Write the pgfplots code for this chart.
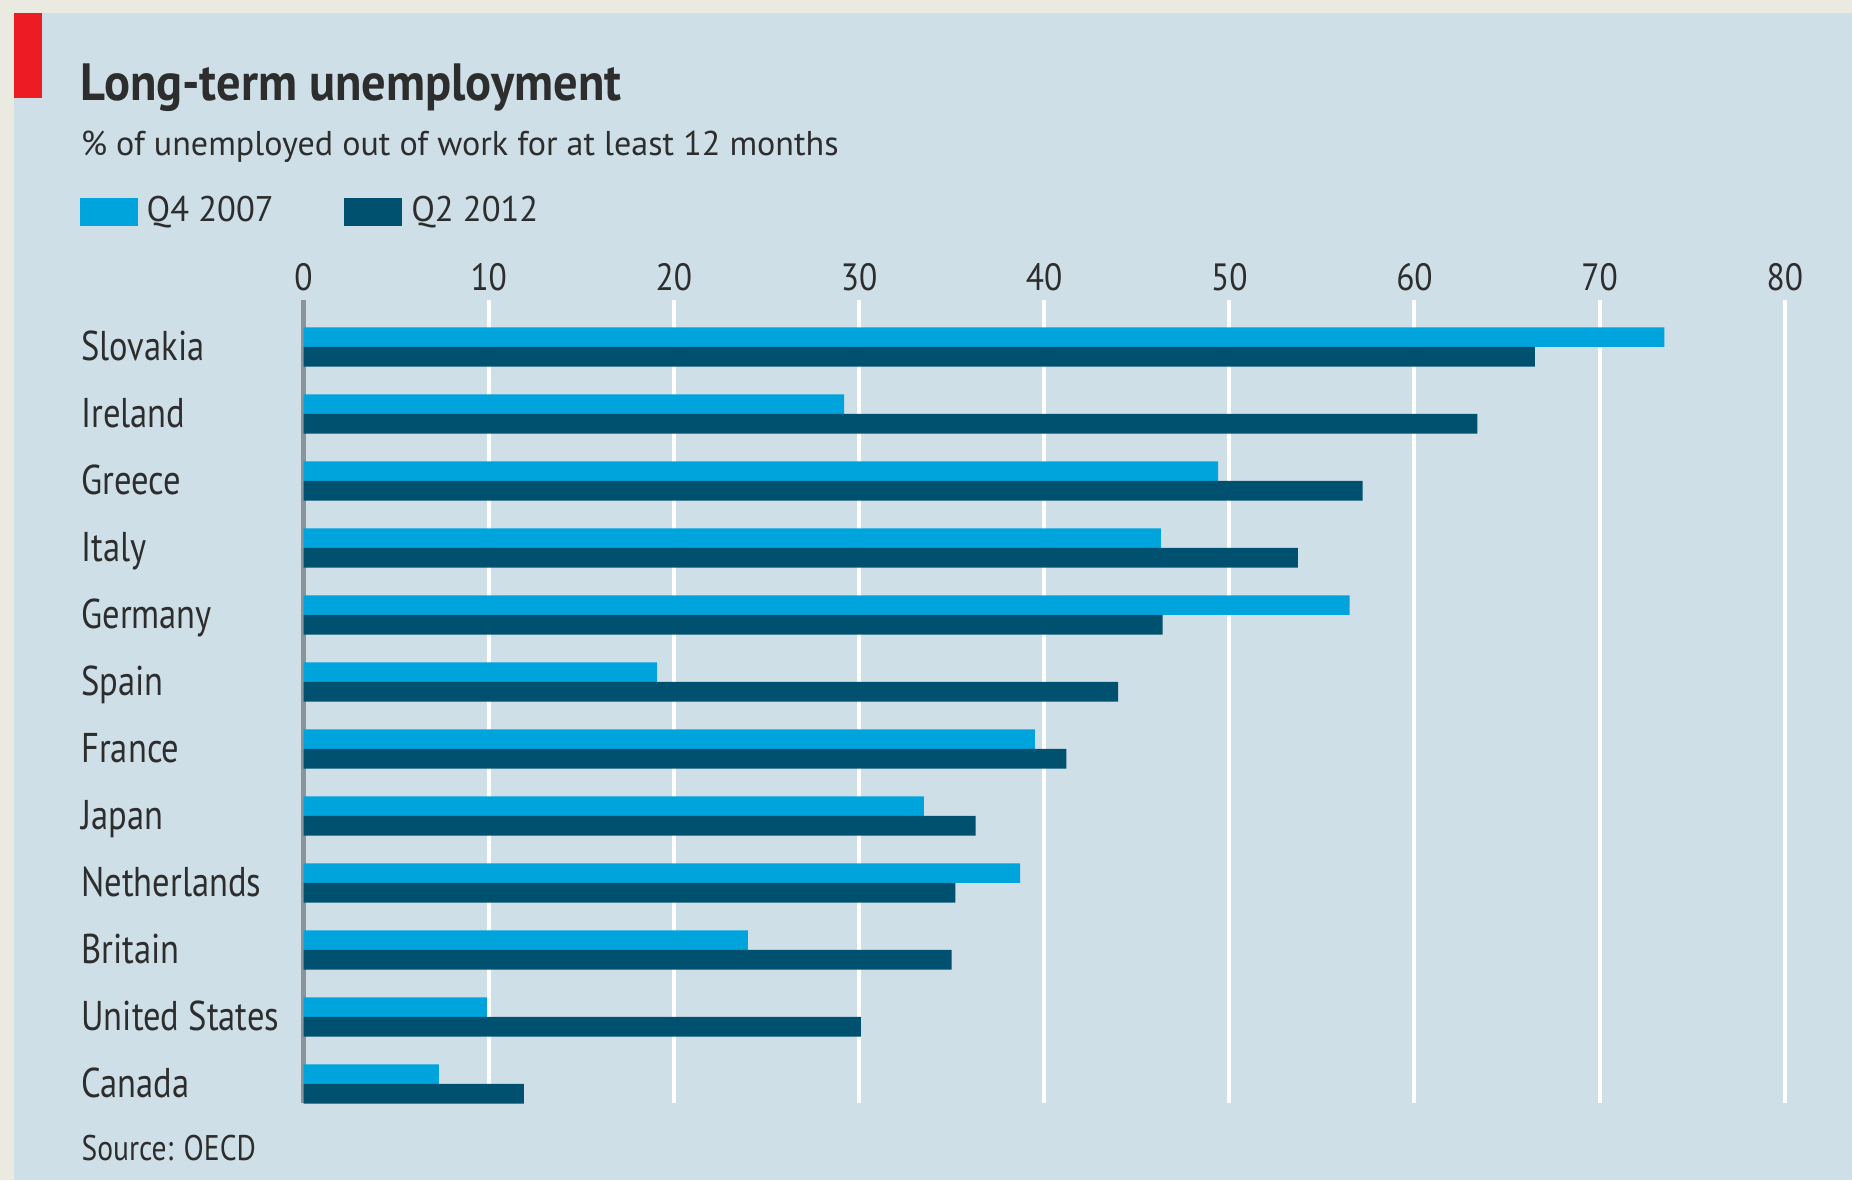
\documentclass[border=0pt]{standalone}
\usepackage{pgfplots}
\pgfplotsset{compat=1.18}
\usepackage{fontspec}
\setmainfont{PT Sans}[FakeStretch=0.83]
\newfontfamily\titlefont{PT Sans}[FakeStretch=0.925]
\newfontfamily\subfont{PT Sans}[FakeStretch=0.99]
\newfontfamily\legfont{PT Sans}[FakeStretch=0.97]
\newfontfamily\tickfont{PT Sans}[FakeStretch=0.88]

\definecolor{bgblue}{RGB}{206,223,231}
\definecolor{beige}{RGB}{234,234,224}
\definecolor{ecored}{RGB}{237,28,36}
\definecolor{lightbar}{RGB}{0,164,220}
\definecolor{darkbar}{RGB}{0,81,111}
\definecolor{zerogrey}{RGB}{138,148,153}
\definecolor{textgrey}{RGB}{45,45,45}

\begin{document}
\begin{tikzpicture}
% page background (1 px of the reference = 0.25pt)
\fill[beige] (0pt,0pt) rectangle (463pt,-295pt);
\fill[bgblue] (3.45pt,-3.2pt) rectangle (463pt,-295pt);
\fill[ecored] (3.45pt,-3.2pt) rectangle (10.5pt,-24.6pt);

\node[anchor=base west, inner sep=0pt, text=textgrey, font=\titlefont\fontsize{13.1}{15}\selectfont\bfseries]
  at (20pt,-25pt) {Long-term unemployment};
\node[anchor=base west, inner sep=0pt, text=textgrey, font=\subfont\fontsize{8.6}{10}\selectfont]
  at (20pt,-38.75pt) {\% of unemployed out of work for at least 12 months};
\node[anchor=base west, inner sep=0pt, text=textgrey, font=\fontsize{8.9}{10}\selectfont]
  at (20.2pt,-290pt) {Source: OECD};

\begin{axis}[
    at={(75.9pt,-275.75pt)}, anchor=south west,
    width=370.3pt, height=200.75pt, scale only axis,
    xbar, bar width=4.9pt,
    xmin=0, xmax=80,
    ymin=-0.285, ymax=11.70,
    axis line style={draw=none},
    tick style={draw=none},
    major tick length=0pt,
    xtick={10,20,...,80},
    extra x ticks={0},
    extra x tick style={grid style={draw=zerogrey, line width=1.25pt}},
    xmajorgrids,
    grid style={draw=white, line width=1pt},
    xticklabel pos=upper,
    /pgf/number format/assume math mode=true,
    xticklabel style={anchor=base, yshift=2.5pt, inner sep=0pt, text=textgrey,
        font=\tickfont\fontsize{9.5}{10}\selectfont},
    ytick={0,...,11},
    yticklabels={Canada,United States,Britain,Netherlands,Japan,France,Spain,Germany,Italy,Greece,Ireland,Slovakia},
    yticklabel style={anchor=base west, xshift=-55.75pt, yshift=-3.45pt, inner sep=0pt,
        text=textgrey, font=\fontsize{10.4}{12}\selectfont},
    legend columns=2,
    legend style={at={(axis description cs:-0.151,1.1096)}, anchor=west,
        draw=none, fill=none, inner sep=0pt, outer sep=0pt,
        font=\legfont\fontsize{8.9}{10}\selectfont, text=textgrey,
        nodes={inner xsep=2.2pt, inner ysep=0pt},
        /tikz/every even column/.append style={column sep=15.5pt}},
    legend image code/.code={\fill[#1, draw=none] (0pt,-3.5pt) rectangle (14.5pt,3.5pt);},
]
\addplot[fill=lightbar, draw=none, bar shift=2.45pt] coordinates {
    (73.5,11) (29.2,10) (49.4,9) (46.3,8) (56.5,7) (19.1,6)
    (39.5,5) (33.5,4) (38.7,3) (24.0,2) (9.9,1) (7.3,0)
};
\addlegendentry{Q4 2007}
\addplot[fill=darkbar, draw=none, bar shift=-2.45pt] coordinates {
    (66.5,11) (63.4,10) (57.2,9) (53.7,8) (46.4,7) (44.0,6)
    (41.2,5) (36.3,4) (35.2,3) (35.0,2) (30.1,1) (11.9,0)
};
\addlegendentry{Q2 2012}
\end{axis}

\pgfresetboundingbox
\path (0pt,0pt) rectangle (463pt,-295pt);
\end{tikzpicture}
\end{document}
